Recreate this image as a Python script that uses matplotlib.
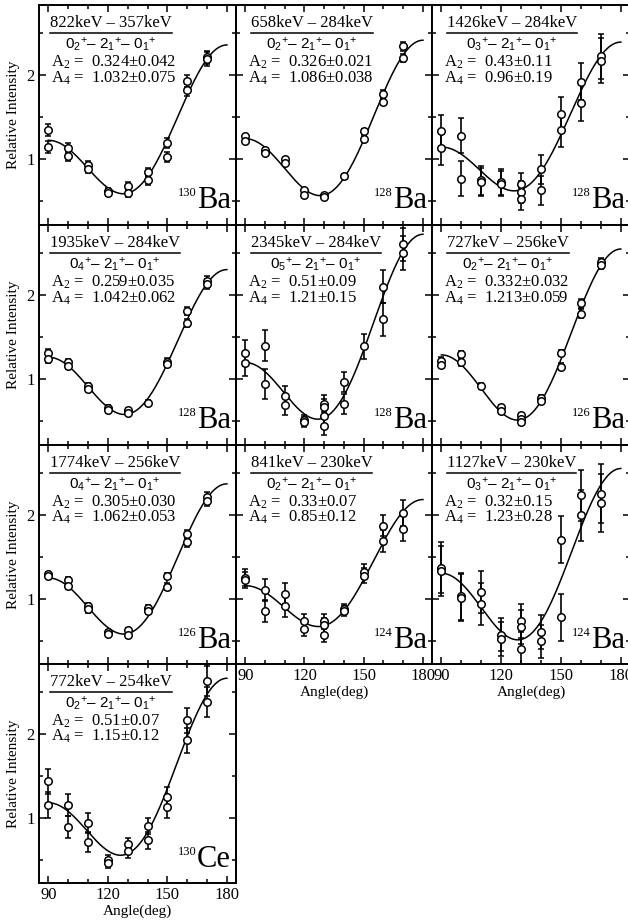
import numpy as np
import matplotlib
matplotlib.use("Agg")
import matplotlib.pyplot as plt
from matplotlib.ticker import MultipleLocator, FixedLocator
from matplotlib.lines import Line2D

plt.rcParams['font.family'] = ['Liberation Serif', 'DejaVu Serif']
plt.rcParams['mathtext.fontset'] = 'custom'
plt.rcParams['mathtext.rm'] = 'Liberation Serif'
plt.rcParams['mathtext.it'] = 'Liberation Serif:italic'
plt.rcParams['mathtext.sf'] = 'Liberation Sans'

# detector angles (deg)
angles = [90, 100, 110, 120, 130, 140, 150, 160, 170]

# measured intensities per angle, and error per angle
ba130_822_y = [[1.35, 1.15], [1.13, 1.04], [0.93, 0.89], [0.62, 0.60], [0.68, 0.60],
               [0.85, 0.75], [1.19, 1.03], [1.93, 1.82], [2.21, 2.19]]
ba130_822_err = [0.07, 0.06, 0.05, 0.04, 0.05, 0.05, 0.06, 0.07, 0.08]

ba128_658_y = [[1.27, 1.22], [1.11, 1.08], [1.00, 0.96], [0.63, 0.58], [0.57, 0.55],
               [0.80], [1.33, 1.24], [1.78, 1.68], [2.34, 2.20]]
ba128_658_err = [0.02, 0.02, 0.02, 0.02, 0.02, 0.02, 0.03, 0.04, 0.05]

ba128_1426_y = [[1.33, 1.13], [1.28, 0.77], [0.75, 0.73], [0.73, 0.71], [0.71, 0.61, 0.53],
                [0.88, 0.63], [1.54, 1.35], [1.92, 1.67], [2.22, 2.17]]
ba128_1426_err = [0.20, 0.21, 0.17, 0.15, 0.13, 0.17, 0.20, 0.22, 0.27]

ba128_1935_y = [[1.31, 1.24], [1.20, 1.16], [0.92, 0.89], [0.66, 0.63], [0.63, 0.60],
                [0.72], [1.21, 1.18], [1.81, 1.67], [2.16, 2.13]]
ba128_1935_err = [0.05, 0.04, 0.04, 0.03, 0.03, 0.03, 0.04, 0.05, 0.06]

ba128_2345_y = [[1.31, 1.19], [1.40, 0.94], [0.80, 0.69], [0.52, 0.49], [0.71, 0.67, 0.56, 0.44],
                [0.97, 0.71], [1.39], [2.10, 1.71], [2.60, 2.50]]
ba128_2345_err = [0.15, 0.18, 0.12, 0.06, 0.10, 0.12, 0.15, 0.20, 0.20]

ba126_727_y = [[1.22, 1.17], [1.30, 1.20], [0.92], [0.67, 0.62], [0.57, 0.53, 0.49],
               [0.78, 0.74], [1.31, 1.15], [1.90, 1.78], [2.39, 2.36]]
ba126_727_err = [0.04, 0.04, 0.03, 0.03, 0.03, 0.03, 0.04, 0.05, 0.05]

ba126_1774_y = [[1.29, 1.27], [1.22, 1.15], [0.91, 0.87], [0.60, 0.58], [0.62, 0.56],
                [0.89, 0.85], [1.27, 1.14], [1.77, 1.67], [2.21, 2.16]]
ba126_1774_err = [0.03, 0.04, 0.04, 0.03, 0.03, 0.03, 0.04, 0.05, 0.06]

ba124_841_y = [[1.25, 1.22], [1.10, 0.85], [1.06, 0.91], [0.73, 0.64], [0.73, 0.68, 0.57],
               [0.87, 0.85], [1.32, 1.27], [1.87, 1.69], [2.02, 1.83]]
ba124_841_err = [0.10, 0.13, 0.13, 0.09, 0.09, 0.06, 0.09, 0.13, 0.15]

ba124_1127_y = [[1.37, 1.33], [1.03, 1.01], [1.08, 0.93], [0.57, 0.52], [0.73, 0.66, 0.40],
                [0.60, 0.49], [1.70, 0.78], [2.23, 1.99], [2.25, 2.14]]
ba124_1127_err = [0.30, 0.28, 0.25, 0.20, 0.20, 0.20, 0.28, 0.30, 0.35]

ce130_772_y = [[1.43, 1.15], [1.15, 0.89], [0.94, 0.71], [0.49, 0.46], [0.68, 0.60],
               [0.90, 0.73], [1.25, 1.12], [2.16, 1.92], [2.63, 2.38]]
ce130_772_err = [0.15, 0.13, 0.12, 0.06, 0.08, 0.10, 0.12, 0.15, 0.18]

points = [ba130_822_y, ba128_658_y, ba128_1426_y, ba128_1935_y, ba128_2345_y,
          ba126_727_y, ba126_1774_y, ba124_841_y, ba124_1127_y, ce130_772_y]
errors = [ba130_822_err, ba128_658_err, ba128_1426_err, ba128_1935_err, ba128_2345_err,
          ba126_727_err, ba126_1774_err, ba124_841_err, ba124_1127_err, ce130_772_err]

gates = ["822keV – 357keV", "658keV – 284keV", "1426keV – 284keV",
         "1935keV – 284keV", "2345keV – 284keV", "727keV – 256keV",
         "1774keV – 256keV", "841keV – 230keV", "1127keV – 230keV",
         "772keV – 254keV"]
first_state = ["2", "2", "3", "4", "5", "2", "4", "2", "3", "2"]
a2 = ["0.324", "0.326", "0.43", "0.259", "0.51", "0.332", "0.305", "0.33", "0.32", "0.51"]
a2_err = ["0.042", "0.021", "0.11", "0.035", "0.09", "0.032", "0.030", "0.07", "0.15", "0.07"]
a4 = ["1.032", "1.086", "0.96", "1.042", "1.21", "1.213", "1.062", "0.85", "1.23", "1.15"]
a4_err = ["0.075", "0.038", "0.19", "0.062", "0.15", "0.059", "0.053", "0.12", "0.28", "0.12"]
mass = ["130", "128", "128", "128", "128", "126", "126", "124", "124", "130"]
element = ["Ba", "Ba", "Ba", "Ba", "Ba", "Ba", "Ba", "Ba", "Ba", "Ce"]


def w_theta(theta, A2, A4):
    c = np.cos(np.radians(theta))
    p2 = (3 * c**2 - 1) / 2
    p4 = (35 * c**4 - 30 * c**2 + 3) / 8
    return 1 + A2 * p2 + A4 * p4


W, H = 628, 923
fig = plt.figure(figsize=(W / 100, H / 100), dpi=100)

col_left = [39, 236, 432]
col_w = [197, 196, 198]
row_top = [5, 225, 445, 664]
row_h = [220, 220, 219, 219]

# (row, col) of each panel; x labels where nothing sits below
slots = [(0, 0), (0, 1), (0, 2), (1, 0), (1, 1), (1, 2), (2, 0), (2, 1), (2, 2), (3, 0)]
xlab = [False] * 7 + [True, True, True]

theta = np.linspace(90, 180, 200)
axes = []
titles = []
nuclei = []
for i, (r, c) in enumerate(slots):
    rect = [col_left[c] / W, 1 - (row_top[r] + row_h[r]) / H, col_w[c] / W, row_h[r] / H]
    ax = fig.add_axes(rect)
    axes.append(ax)

    ax.plot(theta, w_theta(theta, float(a2[i]), float(a4[i])), color='black', lw=1.1, zorder=2)

    xs, ys, es = [], [], []
    for ang, vals, e in zip(angles, points[i], errors[i]):
        for v in vals:
            xs.append(ang)
            ys.append(v)
            es.append(e)
    ax.errorbar(xs, ys, yerr=es, fmt='none', ecolor='black', elinewidth=1.2,
                capsize=2, capthick=1.1, zorder=3)
    ax.plot(xs, ys, 'o', ms=5.4, mfc='white', mec='black', mew=1.1, zorder=4)

    ax.set_xlim(85.3, 184.6)
    ax.set_ylim(0.22, 2.83)
    ax.xaxis.set_major_locator(FixedLocator([90, 120, 150, 180]))
    ax.xaxis.set_minor_locator(MultipleLocator(10))
    ax.yaxis.set_major_locator(FixedLocator([1, 2]))
    ax.yaxis.set_minor_locator(MultipleLocator(0.5))
    ax.tick_params(which='both', direction='in', top=True, right=True, width=1.1,
                   labelsize=12, pad=3,
                   labelbottom=xlab[i], labelleft=(c == 0))
    ax.tick_params(which='major', length=5)
    ax.tick_params(which='minor', length=3)
    for s in ax.spines.values():
        s.set_linewidth(1.4)

    if c == 0:
        ax.set_ylabel("Relative Intensity", fontsize=11, labelpad=5)
    if xlab[i]:
        ax.set_xlabel("Angle(deg)", fontsize=11, labelpad=1)

    x0 = 0.055 if c == 0 else 0.075
    t = ax.text(x0, 0.918, gates[i], transform=ax.transAxes, fontsize=12,
                ha='left', va='center')
    titles.append(t)
    ax.text(0.062, 0.74, "A$_\\mathrm{2}$ =  " + a2[i] + "±" + a2_err[i],
            transform=ax.transAxes, fontsize=12, ha='left', va='center')
    ax.text(0.062, 0.668, "A$_\\mathrm{4}$ =  " + a4[i] + "±" + a4_err[i],
            transform=ax.transAxes, fontsize=12, ha='left', va='center')
    nb = ax.text(0.975, 0.075, element[i], transform=ax.transAxes, fontsize=22,
                 ha='right', va='baseline')
    nuclei.append(nb)

fig.canvas.draw()
renderer = fig.canvas.get_renderer()
for i, ax in enumerate(axes):
    # underline below the gate energies, and the cascade centred beneath it
    bb = titles[i].get_window_extent(renderer)
    y_line = bb.y0 - 2
    fig.add_artist(Line2D([bb.x0 / W, bb.x1 / W], [y_line / H, y_line / H],
                          color='black', lw=1.1))
    xc = (bb.x0 + bb.x1) / 2
    casc = ("0$_\\mathsf{" + first_state[i] + "}$$^\\mathsf{+}$– "
            "2$_\\mathsf{1}$$^\\mathsf{+}$– 0$_\\mathsf{1}$$^\\mathsf{+}$")
    ax_bb = ax.get_window_extent(renderer)
    yc = ax_bb.y0 + 0.818 * ax_bb.height
    fig.text(xc / W, yc / H, casc, family='Liberation Sans', fontsize=11,
             ha='center', va='center')

    # mass number as a superscript to the element symbol
    nb = nuclei[i].get_window_extent(renderer)
    fig.text((nb.x0 - 0.5) / W, (nb.y1 - 1) / H, mass[i], fontsize=9,
             ha='right', va='top')

fig.savefig("out.png", dpi=100)
